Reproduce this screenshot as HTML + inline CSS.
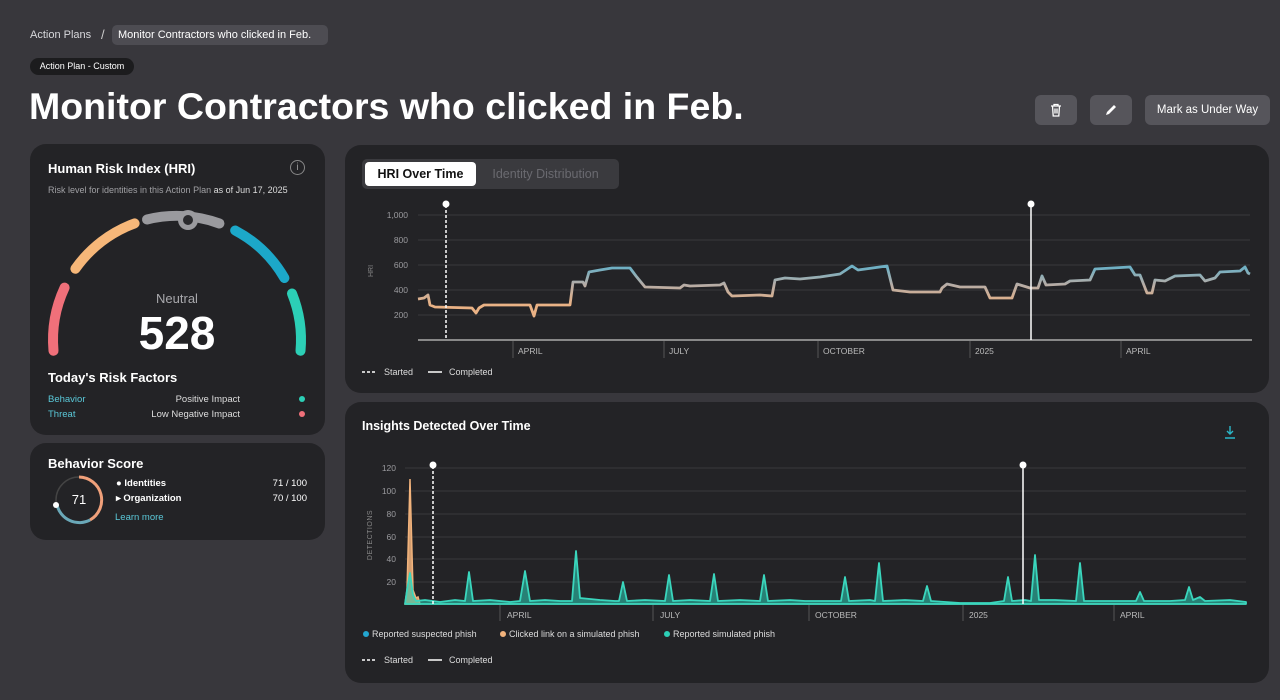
<!DOCTYPE html>
<html><head><meta charset="utf-8"><style>
*{margin:0;padding:0;box-sizing:border-box}
body{width:1280px;height:700px;background:#38373c;font-family:"Liberation Sans",sans-serif;color:#fff;position:relative;overflow:hidden}
.abs{position:absolute}
.card{position:absolute;background:#232326;border-radius:16px}
.btn{position:absolute;background:#56555b;border-radius:6px;color:#fff;font-size:11.5px;display:flex;align-items:center;justify-content:center}
</style></head><body>
<div class="abs" style="left:30px;top:29px;font-size:11px;color:#d8d8dc">Action Plans</div>
<div class="abs" style="left:101px;top:27px;font-size:13px;color:#ccc">/</div>
<div class="abs" style="left:112px;top:25px;width:216px;height:20px;background:#4d4c52;border-radius:5px;font-size:11px;line-height:20px;padding-left:6px;color:#fff">Monitor Contractors who clicked in Feb.</div>
<div class="abs" style="left:30px;top:58px;width:104px;height:17px;background:#1c1c1e;border-radius:9px;font-size:9px;line-height:17px;text-align:center">Action Plan - Custom</div>
<div class="abs" style="left:29px;top:85px;font-size:37.5px;font-weight:bold;letter-spacing:0px">Monitor Contractors who clicked in Feb.</div>
<div class="btn" style="left:1035px;top:95px;width:42px;height:30px"><svg width="14" height="14" viewBox="0 0 14 14"><path d="M2 3h10M5 3V1.5h4V3M3.5 3l.7 10h5.6l.7-10M6 5.5v5M8 5.5v5" stroke="#fff" stroke-width="1.3" fill="none"/></svg></div>
<div class="btn" style="left:1090px;top:95px;width:42px;height:30px"><svg width="14" height="14" viewBox="0 0 14 14"><path d="M2 12l1-3 7-7 2 2-7 7z" fill="#fff"/></svg></div>
<div class="btn" style="left:1145px;top:95px;width:125px;height:30px">Mark as Under Way</div>

<div class="card" style="left:30px;top:144px;width:295px;height:291px"></div>
<div class="abs" style="left:48px;top:161px;font-size:13px;font-weight:bold">Human Risk Index (HRI)</div>
<div class="abs" style="left:290px;top:160px;width:15px;height:15px;border:1.3px solid #888;border-radius:50%;font-size:10px;color:#999;text-align:center;line-height:13px">i</div>
<div class="abs" style="left:48px;top:184px;font-size:9px;color:#a0a0a4;line-height:13px;width:250px">Risk level for identities in this Action Plan <span style="color:#ddd">as of Jun 17, 2025</span></div>
<svg class="abs" style="left:0;top:0" width="340" height="440">
<g fill="none" stroke-width="10" stroke-linecap="round">
<path d="M53.5 350.8 A124 124 0 0 1 64.6 287.6" stroke="#f0707a"/>
<path d="M75.4 268.8 A124 124 0 0 1 134.6 223.4" stroke="#f6b779"/>
<path d="M147 219.5 A124 124 0 0 1 219.4 223.5" stroke="#9a9a9e"/>
<path d="M235.2 230.5 A124 124 0 0 1 284.4 278" stroke="#1ca8c9"/>
<path d="M292 293.5 A124 124 0 0 1 300.5 350.8" stroke="#2ccfb6"/>
</g>
<circle cx="188" cy="220" r="10" fill="#9a9a9e"/><circle cx="188" cy="220" r="5" fill="#2a2a2d"/>
</svg>
<div class="abs" style="left:0;top:291px;width:354px;text-align:center;font-size:13px;color:#a8a8ac">Neutral</div>
<div class="abs" style="left:0;top:306px;width:354px;text-align:center;font-size:46px;font-weight:bold">528</div>
<div class="abs" style="left:48px;top:370px;font-size:13px;font-weight:bold">Today's Risk Factors</div>
<div class="abs" style="left:48px;top:394px;font-size:9.5px;color:#5ac8d8">Behavior</div>
<div class="abs" style="left:48px;top:409px;font-size:9.5px;color:#5ac8d8">Threat</div>
<div class="abs" style="left:140px;top:394px;width:100px;text-align:right;font-size:9.5px;color:#ddd">Positive Impact</div>
<div class="abs" style="left:120px;top:409px;width:120px;text-align:right;font-size:9.5px;color:#ddd">Low Negative Impact</div>
<div class="abs" style="left:299px;top:396px;width:6px;height:6px;border-radius:50%;background:#2ccfb6"></div>
<div class="abs" style="left:299px;top:411px;width:6px;height:6px;border-radius:50%;background:#f0707a"></div>

<div class="card" style="left:30px;top:443px;width:295px;height:97px"></div>
<div class="abs" style="left:48px;top:456px;font-size:13px;font-weight:bold">Behavior Score</div>
<svg class="abs" style="left:50px;top:472px" width="60" height="58"><circle cx="29" cy="28" r="23" fill="none" stroke="#444" stroke-width="1.5"/><path d="M29 5 A23 23 0 0 1 40 48" stroke="#f0a07a" stroke-width="3" fill="none"/><path d="M40 48 A23 23 0 0 1 7 33" stroke="#6aa8b8" stroke-width="3" fill="none"/><circle cx="6" cy="33" r="3" fill="#fff"/></svg>
<div class="abs" style="left:50px;top:492px;width:58px;text-align:center;font-size:13px">71</div>
<div class="abs" style="left:116px;top:478px;font-size:9.5px;font-weight:bold">● Identities</div>
<div class="abs" style="left:116px;top:493px;font-size:9.5px;font-weight:bold">▸ Organization</div>
<div class="abs" style="left:115px;top:512px;font-size:9.5px;color:#5ac8d8">Learn more</div>
<div class="abs" style="left:250px;top:478px;width:57px;text-align:right;font-size:9.5px">71 / 100</div>
<div class="abs" style="left:250px;top:493px;width:57px;text-align:right;font-size:9.5px">70 / 100</div>

<div class="card" style="left:345px;top:145px;width:924px;height:248px"></div>
<div class="abs" style="left:362px;top:159px;width:257px;height:30px;background:#3a3a3e;border-radius:5px"></div>
<div class="abs" style="left:365px;top:162px;width:111px;height:24px;background:#fff;border-radius:4px;color:#111;font-size:12.5px;font-weight:bold;text-align:center;line-height:24px">HRI Over Time</div>
<div class="abs" style="left:478px;top:162px;width:135px;height:24px;color:#6a6a70;font-size:12.5px;text-align:center;line-height:24px">Identity Distribution</div>
<svg class="abs" style="left:0;top:0" width="1280" height="700" font-family="Liberation Sans, sans-serif">
<defs><linearGradient id="hg" gradientUnits="userSpaceOnUse" x1="0" y1="268" x2="0" y2="305"><stop offset="0" stop-color="#6fb0c4"/><stop offset="0.45" stop-color="#b6aca6"/><stop offset="1" stop-color="#eab285"/></linearGradient></defs>
<g stroke="#38383c" stroke-width="1"><line x1="418" y1="215" x2="1250" y2="215"/><line x1="418" y1="240" x2="1250" y2="240"/><line x1="418" y1="265" x2="1250" y2="265"/><line x1="418" y1="290" x2="1250" y2="290"/><line x1="418" y1="315" x2="1250" y2="315"/></g>
<g fill="#9a9a9e" font-size="8.5" text-anchor="end"><text x="408" y="218">1,000</text><text x="408" y="243">800</text><text x="408" y="268">600</text><text x="408" y="293">400</text><text x="408" y="318">200</text></g>
<text x="373" y="271" fill="#888" font-size="7" transform="rotate(-90 373 271)" text-anchor="middle">HRI</text>
<line x1="418" y1="340" x2="1252" y2="340" stroke="#888" stroke-width="2"/>
<g stroke="#555" stroke-width="1"><line x1="513" y1="341" x2="513" y2="358"/><line x1="664" y1="341" x2="664" y2="358"/><line x1="818" y1="341" x2="818" y2="358"/><line x1="970" y1="341" x2="970" y2="358"/><line x1="1121" y1="341" x2="1121" y2="358"/></g>
<g fill="#bbb" font-size="8.5"><text x="518" y="354">APRIL</text><text x="669" y="354">JULY</text><text x="823" y="354">OCTOBER</text><text x="975" y="354">2025</text><text x="1126" y="354">APRIL</text></g>
<polyline fill="none" stroke="url(#hg)" stroke-width="2.8" stroke-linejoin="round" points="418,299 424,298 428,295 430,305 435,307 472,308 476,313 479,308 484,305 530,305 534,316 537,305 570,305 573,282 583,282 585,286 589,272 600,270 612,268 630,268 636,276 645,287 680,288 684,285 690,286 720,285 724,283 728,292 732,296 760,295 772,296 775,280 785,278 800,279 820,277 840,274 852,266 858,270 887,266 893,290 910,292 940,292 942,288 947,284 960,287 985,287 990,298 1012,298 1017,284 1030,288 1038,288 1042,276 1046,285 1065,284 1070,281 1090,280 1095,269 1130,267 1135,275 1140,275 1147,293 1152,293 1155,280 1165,281 1175,276 1200,275 1205,281 1215,278 1220,272 1240,271 1245,267 1248,273 1250,274"/>
<line x1="446" y1="205" x2="446" y2="340" stroke="#fff" stroke-width="1.5" stroke-dasharray="3 2"/><circle cx="446" cy="204" r="3.5" fill="#fff"/>
<line x1="1031" y1="205" x2="1031" y2="340" stroke="#fff" stroke-width="1.5"/><circle cx="1031" cy="204" r="3.5" fill="#fff"/>
<g font-size="9" fill="#ddd"><line x1="362" y1="372" x2="376" y2="372" stroke="#fff" stroke-width="1.5" stroke-dasharray="3 2"/><text x="384" y="375">Started</text><line x1="428" y1="372" x2="442" y2="372" stroke="#fff" stroke-width="1.5"/><text x="449" y="375">Completed</text></g>
</svg>

<div class="card" style="left:345px;top:402px;width:924px;height:281px"></div>
<div class="abs" style="left:362px;top:419px;font-size:12.5px;font-weight:bold">Insights Detected Over Time</div>
<svg class="abs" style="left:0;top:0" width="1280" height="700" font-family="Liberation Sans, sans-serif">
<path d="M1230 426v8M1227 431l3 3 3-3M1225 438h10" stroke="#2bb6c8" stroke-width="1.4" fill="none"/>
<g stroke="#38383c"><line x1="405" y1="468" x2="1246" y2="468"/><line x1="405" y1="491" x2="1246" y2="491"/><line x1="405" y1="514" x2="1246" y2="514"/><line x1="405" y1="537" x2="1246" y2="537"/><line x1="405" y1="559" x2="1246" y2="559"/><line x1="405" y1="582" x2="1246" y2="582"/></g>
<g fill="#9a9a9e" font-size="8.5" text-anchor="end"><text x="396" y="471">120</text><text x="396" y="494">100</text><text x="396" y="517">80</text><text x="396" y="540">60</text><text x="396" y="562">40</text><text x="396" y="585">20</text></g>
<text x="372" y="535" fill="#888" font-size="7" transform="rotate(-90 372 535)" text-anchor="middle" letter-spacing="0.5">DETECTIONS</text>
<line x1="405" y1="604" x2="1246" y2="604" stroke="#777" stroke-width="1.5"/>
<g stroke="#555"><line x1="500" y1="605" x2="500" y2="621"/><line x1="653" y1="605" x2="653" y2="621"/><line x1="809" y1="605" x2="809" y2="621"/><line x1="963" y1="605" x2="963" y2="621"/><line x1="1114" y1="605" x2="1114" y2="621"/></g>
<g fill="#bbb" font-size="8.5"><text x="507" y="618">APRIL</text><text x="660" y="618">JULY</text><text x="815" y="618">OCTOBER</text><text x="969" y="618">2025</text><text x="1120" y="618">APRIL</text></g>
<path d="M405 604 L407 590 L410 479 L413 590 L416 598 L418 597 L420 604 Z" fill="#f2b37c" fill-opacity="0.85" stroke="#f2b37c" stroke-width="1.5"/>
<path d="M405 604 L407 590 L410 573 L413 595 L416 601 L425 600 L440 602 L455 600 L465 601 L469 572 L473 601 L490 600 L510 602 L520 601 L525 571 L530 601 L545 600 L560 601 L572 601 L576 551 L580 598 L600 600 L615 601 L619 601 L623 582 L627 601 L645 600 L665 601 L669 575 L673 601 L690 600 L710 601 L714 574 L718 601 L740 600 L760 601 L764 575 L768 601 L790 600 L805 601 L841 601 L845 577 L849 601 L870 600 L875 601 L879 563 L883 601 L905 600 L923 601 L927 586 L931 601 L960 603 L990 603 L1004 601 L1008 577 L1012 601 L1025 600 L1031 601 L1035 555 L1039 600 L1055 600 L1076 601 L1080 563 L1084 601 L1110 601 L1136 601 L1140 592 L1144 601 L1170 601 L1185 600 L1189 587 L1193 600 L1200 597 L1205 601 L1230 600 L1246 602 L1246 604 Z" fill="#2ccfb6" fill-opacity="0.55" stroke="#3ad6bd" stroke-width="1.8" stroke-linejoin="round"/>
<line x1="433" y1="466" x2="433" y2="604" stroke="#fff" stroke-width="1.5" stroke-dasharray="3 2"/><circle cx="433" cy="465" r="3.5" fill="#fff"/>
<line x1="1023" y1="466" x2="1023" y2="604" stroke="#fff" stroke-width="1.5"/><circle cx="1023" cy="465" r="3.5" fill="#fff"/>
<g font-size="9" fill="#ddd">
<circle cx="366" cy="634" r="3" fill="#23a6d0"/><text x="372" y="637">Reported suspected phish</text>
<circle cx="503" cy="634" r="3" fill="#f2b37c"/><text x="509" y="637">Clicked link on a simulated phish</text>
<circle cx="667" cy="634" r="3" fill="#2ccfb6"/><text x="673" y="637">Reported simulated phish</text>
<line x1="362" y1="660" x2="376" y2="660" stroke="#fff" stroke-width="1.5" stroke-dasharray="3 2"/><text x="384" y="663">Started</text>
<line x1="428" y1="660" x2="442" y2="660" stroke="#fff" stroke-width="1.5"/><text x="449" y="663">Completed</text></g>
</svg>
</body></html>
